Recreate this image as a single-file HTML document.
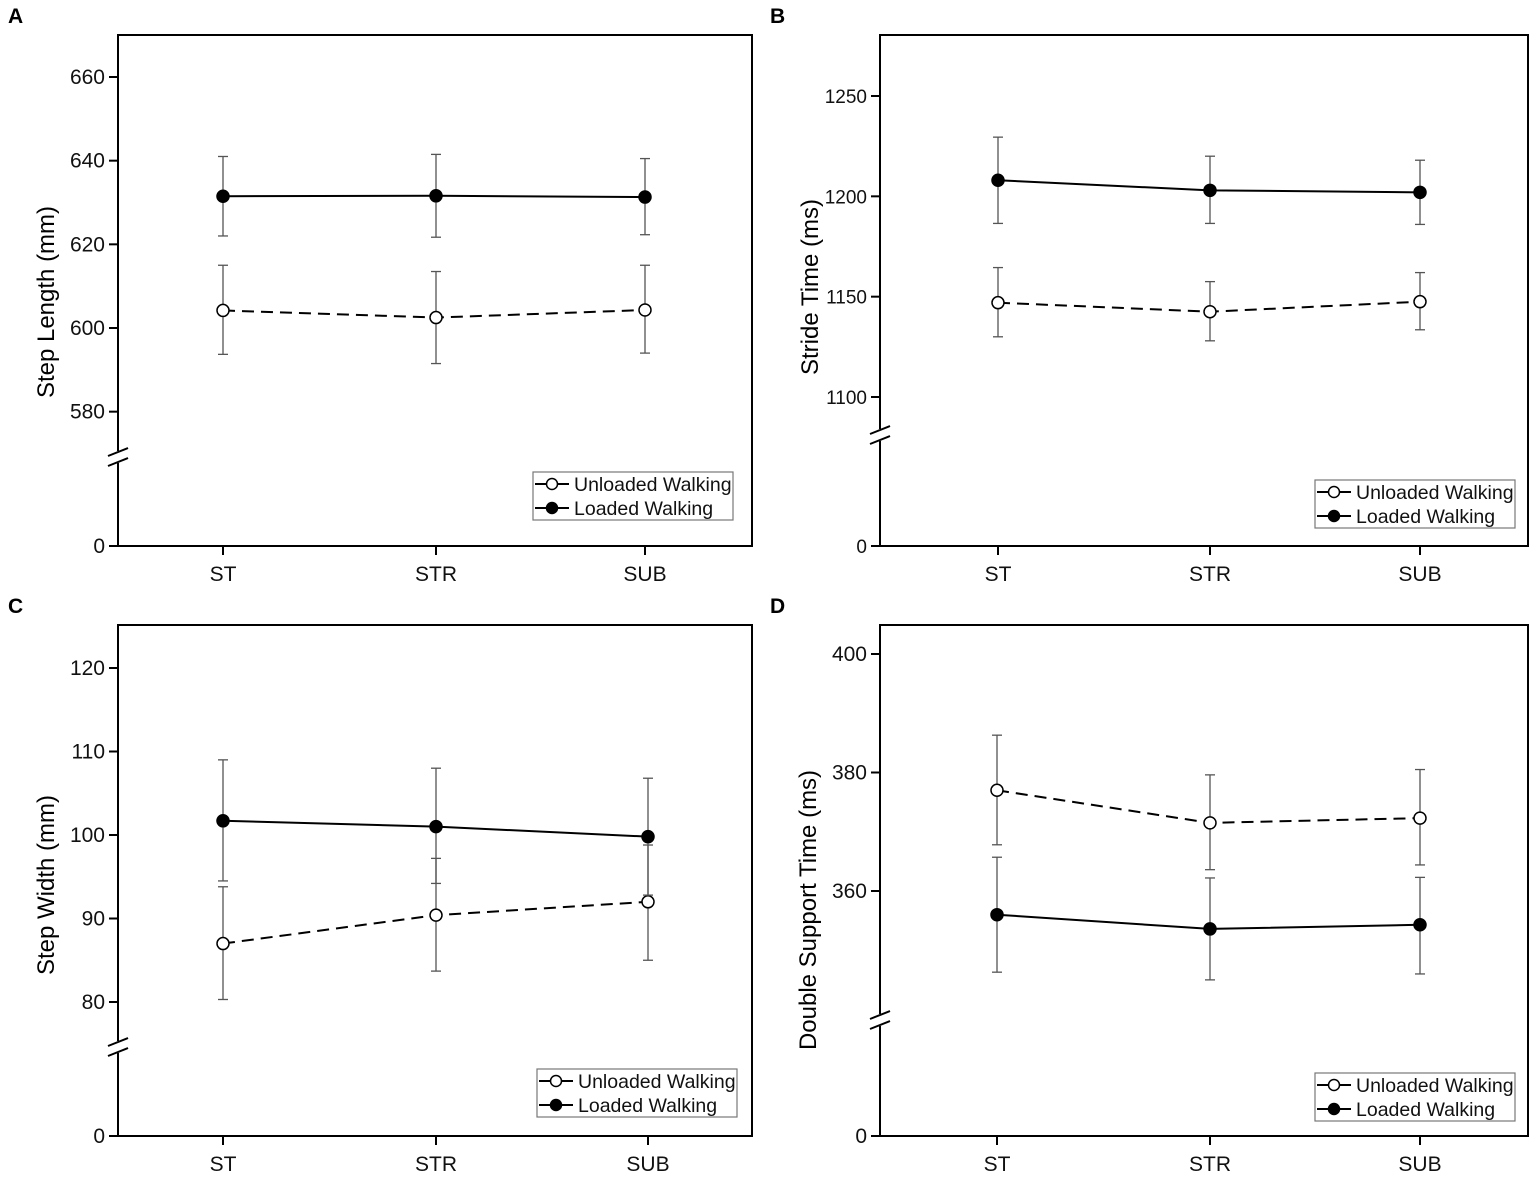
<!DOCTYPE html>
<html><head><meta charset="utf-8"><style>
body{margin:0;background:#fff;}
svg{display:block;font-family:"Liberation Sans",Arial,sans-serif;}
</style></head><body>
<svg id="fig" width="1535" height="1177" viewBox="0 0 1535 1177"></svg>
<script>
const categories = ["ST","STR","SUB"];
// Panel A
const aLoaded = [631.5, 631.6, 631.3];
const aLoadedHi = [641, 641.5, 640.5];
const aLoadedLo = [622, 621.7, 622.3];
const aUnloaded = [604.2, 602.5, 604.3];
const aUnloadedHi = [615, 613.5, 615];
const aUnloadedLo = [593.7, 591.5, 594];
const aTicks = [580, 600, 620, 640, 660];
// Panel B
const bLoaded = [1208, 1203, 1202];
const bLoadedHi = [1229.5, 1220, 1218];
const bLoadedLo = [1186.5, 1186.5, 1186];
const bUnloaded = [1147, 1142.5, 1147.5];
const bUnloadedHi = [1164.5, 1157.5, 1162];
const bUnloadedLo = [1130, 1128, 1133.5];
const bTicks = [1100, 1150, 1200, 1250];
// Panel C
const cLoaded = [101.7, 101, 99.8];
const cLoadedHi = [109, 108, 106.8];
const cLoadedLo = [94.5, 94.2, 92.8];
const cUnloaded = [87, 90.4, 92];
const cUnloadedHi = [93.8, 97.2, 98.8];
const cUnloadedLo = [80.3, 83.7, 85];
const cTicks = [80, 90, 100, 110, 120];
// Panel D
const dLoaded = [356, 353.6, 354.3];
const dLoadedHi = [365.7, 362.2, 362.3];
const dLoadedLo = [346.3, 345, 346];
const dUnloaded = [377, 371.5, 372.3];
const dUnloadedHi = [386.3, 379.6, 380.5];
const dUnloadedLo = [367.8, 363.6, 364.4];
const dTicks = [360, 380, 400];

const NS = "http://www.w3.org/2000/svg";
const svg = document.getElementById("fig");
function mk(tag, attrs, parent, txt){
  const e = document.createElementNS(NS, tag);
  for (const k in attrs) e.setAttribute(k, attrs[k]);
  if (txt !== undefined) e.textContent = txt;
  (parent||svg).appendChild(e);
  return e;
}

function panel(cfg){
  const g = mk("g", {});
  
  
  const {x0,x1,y0,y1,v0,yv0,v1,yv1,catX,breakY} = cfg;
  const ys = v => yv0 + (v - v0) * (yv1 - yv0) / (v1 - v0);
  const xs = i => catX[i];
  const t = mk("text", {x: x0-110, y: y0-12, "font-size": 21, "font-weight": "bold"}, g, cfg.letter);
  
  
  const box = mk("rect", {x: x0, y: y0, width: x1-x0, height: y1-y0, fill: "none", stroke: "#000", "stroke-width": 2}, g);
  
  
  mk("rect", {x: x0-3, y: breakY-6, width: 6, height: 12, fill: "#fff"}, g);
  mk("line", {x1: x0-10, y1: breakY-1, x2: x0+10, y2: breakY-9, stroke: "#000", "stroke-width": 2}, g);
  mk("line", {x1: x0-10, y1: breakY+9, x2: x0+10, y2: breakY+1, stroke: "#000", "stroke-width": 2}, g);
  const allTicks = [0].concat(cfg.ticks);
  allTicks.forEach(v => {
    const y = v === 0 ? y1 : ys(v);
    mk("line", {x1: x0-9, y1: y, x2: x0, y2: y, stroke: "#000", "stroke-width": 2}, g);
    const lab = mk("text", {x: x0-13, y: y+7, "font-size": cfg.tickFont, "text-anchor": "end", fill: "#111"}, g, String(v));
    
    
  });
  categories.forEach((c, i) => {
    mk("line", {x1: xs(i), y1: y1, x2: xs(i), y2: y1+9, stroke: "#000", "stroke-width": 2}, g);
    const lab = mk("text", {x: xs(i), y: y1+35, "font-size": 21, "text-anchor": "middle", fill: "#111"}, g, c);
    
    
  });
  const yt = mk("text", {x: 0, y: 0, "font-size": 24, "text-anchor": "middle", transform: `translate(${x0-cfg.titleDx},${cfg.titleY}) rotate(-90)`}, g, cfg.title);
  
  
  const series = [
    {name:"unloaded", v: cfg.u, hi: cfg.uHi, lo: cfg.uLo, dash: "12,7", fill: "#fff"},
    {name:"loaded", v: cfg.l, hi: cfg.lHi, lo: cfg.lLo, dash: null, fill: "#000"}
  ];
  series.forEach(s => {
    s.v.forEach((v, i) => {
      const x = xs(i);
      mk("line", {x1: x, y1: ys(s.hi[i]), x2: x, y2: ys(s.lo[i]), stroke: "#555", "stroke-width": 1.3}, g);
      mk("line", {x1: x-5, y1: ys(s.hi[i]), x2: x+5, y2: ys(s.hi[i]), stroke: "#555", "stroke-width": 1.3}, g);
      mk("line", {x1: x-5, y1: ys(s.lo[i]), x2: x+5, y2: ys(s.lo[i]), stroke: "#555", "stroke-width": 1.3}, g);
    });
    const pts = s.v.map((v, i) => xs(i) + "," + ys(v)).join(" ");
    const line = mk("polyline", {points: pts, fill: "none", stroke: "#000", "stroke-width": 2}, g);
    if (s.dash) line.setAttribute("stroke-dasharray", s.dash);
    
    
    s.v.forEach((v, i) => {
      const c = mk("circle", {cx: xs(i), cy: ys(v), r: 6, fill: s.fill, stroke: "#000", "stroke-width": 1.5}, g);
      
      
    });
  });
  const lg = mk("g", {}, g);
  
  
  const lx = cfg.legX, ly = cfg.legY;
  mk("rect", {x: lx, y: ly, width: 200, height: 48, fill: "#fff", stroke: "#777", "stroke-width": 1.2}, lg);
  [["Unloaded Walking", "#fff", 12], ["Loaded Walking", "#000", 36]].forEach(([lab, f, dy]) => {
    mk("line", {x1: lx+2, y1: ly+dy, x2: lx+36, y2: ly+dy, stroke: "#000", "stroke-width": 2}, lg);
    mk("circle", {cx: lx+19, cy: ly+dy, r: 5.5, fill: f, stroke: "#000", "stroke-width": 1.5}, lg);
    const tt = mk("text", {x: lx+41, y: ly+dy+7, "font-size": 19.5, fill: "#111"}, lg, lab);
    
    
  });
}

panel({letter:"A", x0:118, x1:752, y0:35, y1:546, v0:600, yv0:328, v1:660, yv1:77, catX:[223,436,645], breakY:457,
  ticks:aTicks, tickFont:21, title:"Step Length (mm)", titleY:302, titleDx:64, legX:533, legY:472,
  u:aUnloaded, uHi:aUnloadedHi, uLo:aUnloadedLo, l:aLoaded, lHi:aLoadedHi, lLo:aLoadedLo});
panel({letter:"B", x0:880, x1:1528, y0:35, y1:546, v0:1100, yv0:397, v1:1250, yv1:96, catX:[998,1210,1420], breakY:435,
  ticks:bTicks, tickFont:19, title:"Stride Time (ms)", titleY:287, titleDx:62, legX:1315, legY:480,
  u:bUnloaded, uHi:bUnloadedHi, uLo:bUnloadedLo, l:bLoaded, lHi:bLoadedHi, lLo:bLoadedLo});
panel({letter:"C", x0:118, x1:752, y0:625, y1:1136, v0:80, yv0:1002, v1:120, yv1:668, catX:[223,436,648], breakY:1047,
  ticks:cTicks, tickFont:21, title:"Step Width (mm)", titleY:885, titleDx:64, legX:537, legY:1069,
  u:cUnloaded, uHi:cUnloadedHi, uLo:cUnloadedLo, l:cLoaded, lHi:cLoadedHi, lLo:cLoadedLo});
panel({letter:"D", x0:880, x1:1528, y0:625, y1:1136, v0:360, yv0:891, v1:400, yv1:654, catX:[997,1210,1420], breakY:1020,
  ticks:dTicks, tickFont:21, title:"Double Support Time (ms)", titleY:910, titleDx:64, legX:1315, legY:1073,
  u:dUnloaded, uHi:dUnloadedHi, uLo:dUnloadedLo, l:dLoaded, lHi:dLoadedHi, lLo:dLoadedLo});
</script>
</body></html>
